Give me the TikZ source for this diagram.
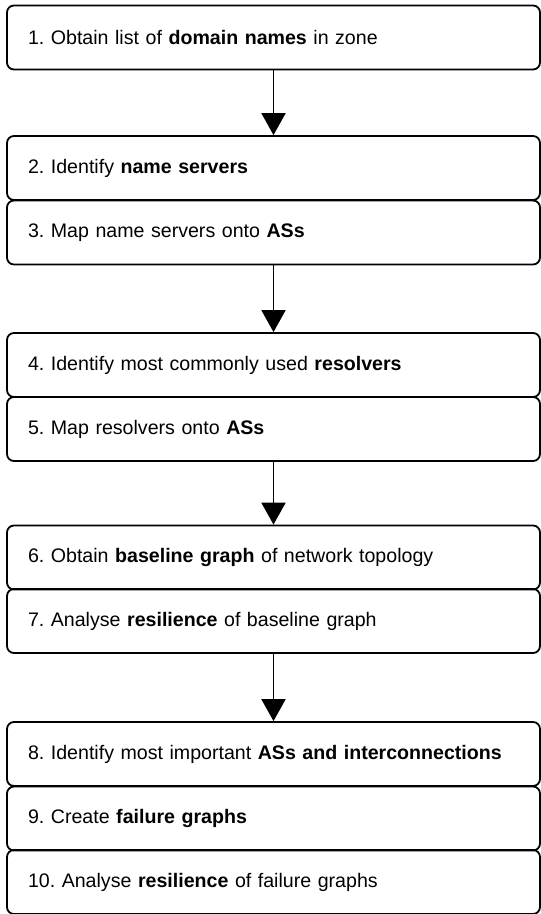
\documentclass[tikz,border=0pt]{standalone}
\usepackage{fontspec}
\setmainfont{Liberation Sans}
\usetikzlibrary{arrows.meta}
\frenchspacing

\begin{document}
\begin{tikzpicture}[x=1pt, y=-1pt]
  \tikzset{stepbox/.style={draw, line width=1.8pt, rounded corners=7pt,
      minimum width=533pt, minimum height=64pt, text width=491pt,
      inner xsep=21pt, align=left, font=\fontsize{19.6}{23}\selectfont},
    >={Triangle[width=24pt,length=22pt]}}
  \useasboundingbox (0,0) rectangle (541,914);
  \node[stepbox] (box-1) at (273.5,37.5) {1. Obtain list of \textbf{domain names} in zone};
  \node[stepbox] (box-2) at (273.5,168) {2. Identify \textbf{name servers}};
  \node[stepbox] (box-3) at (273.5,232.5) {3. Map name servers onto \textbf{ASs}};
  \node[stepbox] (box-4) at (273.5,365) {4. Identify most commonly used \textbf{resolvers}};
  \node[stepbox] (box-5) at (273.5,429) {5. Map resolvers onto \textbf{ASs}};
  \node[stepbox] (box-6) at (273.5,557.5) {6. Obtain \textbf{baseline graph} of network topology};
  \node[stepbox] (box-7) at (273.5,621) {7. Analyse \textbf{resilience} of baseline graph};
  \node[stepbox] (box-8) at (273.5,754) {8. Identify most important \textbf{ASs and interconnections}};
  \node[stepbox] (box-9) at (273.5,818.5) {9. Create \textbf{failure graphs}};
  \node[stepbox] (box-10) at (273.5,882) {10. Analyse \textbf{resilience} of failure graphs};
  \draw[->, line width=1.8pt] (box-1) -- (box-2);
  \draw[->, line width=1.8pt] (box-3) -- (box-4);
  \draw[->, line width=1.8pt] (box-5) -- (box-6);
  \draw[->, line width=1.8pt] (box-7) -- (box-8);
\end{tikzpicture}
\end{document}
